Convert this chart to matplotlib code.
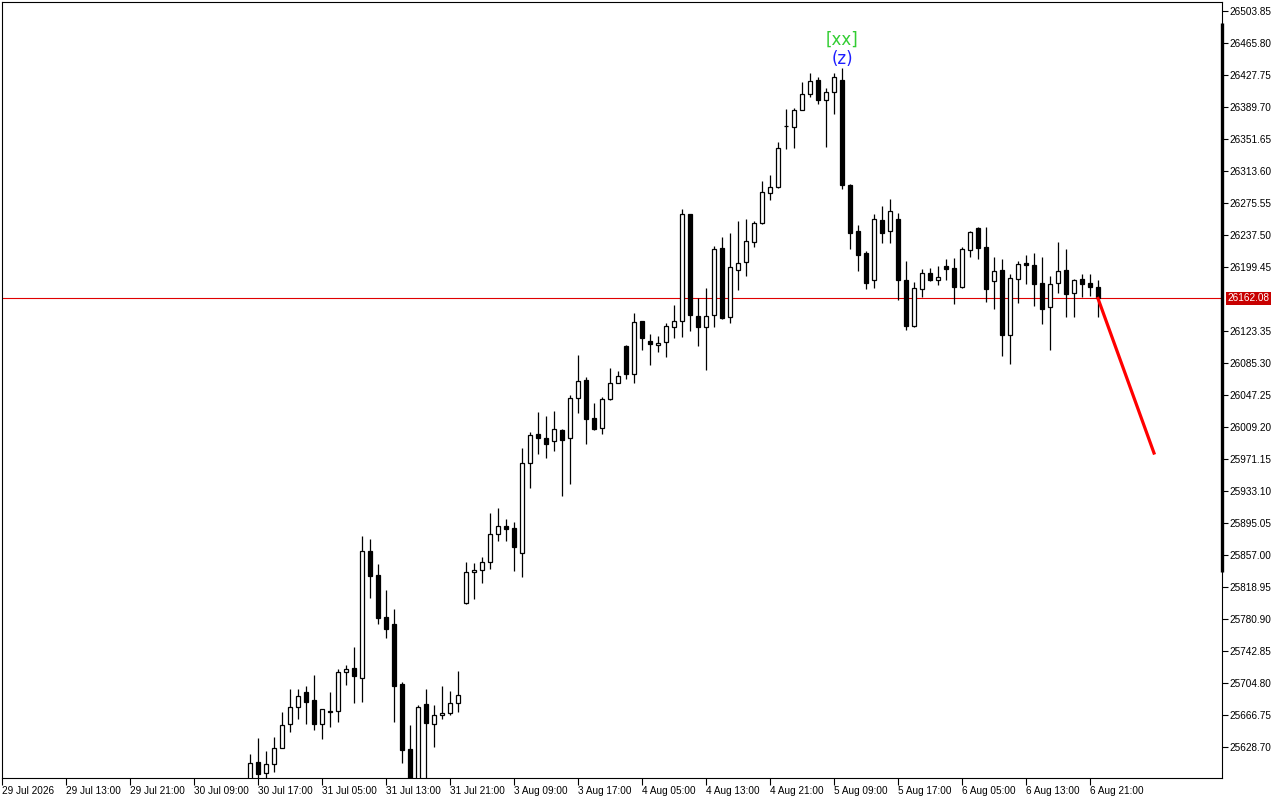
import numpy as np
import matplotlib
matplotlib.use('Agg')
import matplotlib.pyplot as plt

# Candle data (H1 bars), first visible bar sits at index 31 of the chart
first_bar = 31
opens = [25580.0, 25610.8, 25597.7, 25608.4, 25627.5, 25656.0, 25676.3, 25694.1, 25684.6, 25656.0,
         25671.5, 25671.5, 25718.0, 25722.7, 25710.7, 25861.7, 25833.2, 25783.3, 25775.0, 25703.6,
         25626.3, 25565.0, 25679.8, 25656.0, 25666.7, 25669.1, 25681.0, 25800.0, 25836.8, 25839.2,
         25848.7, 25881.9, 25891.5, 25889.1, 25859.4, 25966.4, 26000.9, 25996.2, 25992.6, 26005.6,
         25996.2, 26043.7, 26065.1, 26019.9, 26008.0, 26042.5, 26061.6, 26105.6, 26072.3, 26135.2,
         26111.5, 26106.8, 26110.3, 26128.2, 26135.2, 26262.5, 26141.2, 26128.2, 26142.4, 26222.1,
         26140.0, 26195.9, 26205.4, 26229.2, 26252.0, 26287.4, 26294.6, 26367.1, 26365.9, 26386.2,
         26405.2, 26421.8, 26398.0, 26407.5, 26421.8, 26297.0, 26242.3, 26216.1, 26184.0, 26255.3,
         26242.3, 26256.5, 26184.0, 26129.3, 26173.3, 26192.3, 26184.0, 26200.6, 26198.3, 26175.7,
         26219.7, 26245.8, 26223.3, 26182.8, 26195.9, 26118.6, 26185.2, 26204.3, 26201.9, 26180.4,
         26151.9, 26180.4, 26195.9, 26168.6, 26185.2, 26180.4, 26175.7]
highs = [25620.0, 25639.4, 25624.0, 25640.6, 25670.3, 25697.6, 25697.6, 25701.2, 25714.3, 25674.5,
         25694.1, 25721.5, 25726.3, 25747.6, 25879.6, 25876.0, 25846.3, 25815.4, 25792.8, 25706.0,
         25654.8, 25678.7, 25697.6, 25678.7, 25701.2, 25695.3, 25719.0, 25848.7, 25847.5, 25854.6,
         25906.9, 25912.9, 25899.8, 25896.2, 25984.3, 26003.3, 26027.0, 26022.3, 26028.2, 26006.5,
         26047.3, 26094.8, 26068.6, 26037.7, 26044.9, 26079.3, 26075.8, 26106.8, 26144.7, 26135.5,
         26119.8, 26117.5, 26132.9, 26154.2, 26268.4, 26263.0, 26162.5, 26174.4, 26224.4, 26235.1,
         26239.9, 26254.2, 26256.5, 26254.4, 26301.7, 26308.8, 26348.1, 26387.3, 26388.5, 26419.4,
         26430.1, 26425.4, 26412.3, 26430.1, 26436.1, 26298.0, 26249.4, 26218.5, 26262.5, 26272.0,
         26280.3, 26263.7, 26206.6, 26181.6, 26197.1, 26198.3, 26200.6, 26208.9, 26210.1, 26223.3,
         26242.3, 26246.5, 26247.0, 26211.3, 26208.9, 26191.2, 26206.6, 26213.7, 26216.1, 26211.3,
         26188.8, 26229.2, 26220.9, 26185.2, 26191.2, 26191.2, 26184.0]
lows = [25570.0, 25584.0, 25590.6, 25599.0, 25627.0, 25646.5, 25662.0, 25656.0, 25648.9, 25638.2,
        25652.4, 25658.0, 25702.4, 25681.0, 25682.2, 25805.8, 25775.0, 25758.3, 25658.4, 25609.6,
        25555.0, 25555.0, 25575.0, 25628.7, 25662.0, 25667.0, 25670.3, 25799.0, 25804.6, 25823.7,
        25840.3, 25873.6, 25873.6, 25837.9, 25830.8, 25936.7, 25977.0, 25972.3, 25980.6, 25927.2,
        25941.4, 26025.8, 25989.0, 26006.0, 26000.9, 26041.3, 26061.0, 26066.3, 26061.6, 26100.8,
        26082.9, 26098.4, 26092.5, 26115.0, 26116.2, 26123.3, 26105.6, 26077.0, 26128.2, 26137.6,
        26132.9, 26172.1, 26188.8, 26223.2, 26251.0, 26279.1, 26294.0, 26339.8, 26340.9, 26386.0,
        26401.6, 26393.3, 26342.1, 26381.4, 26292.2, 26220.9, 26194.7, 26173.3, 26174.5, 26228.0,
        26228.0, 26160.2, 26124.6, 26128.0, 26163.8, 26182.8, 26178.1, 26184.0, 26155.5, 26175.0,
        26211.3, 26208.9, 26157.8, 26149.5, 26093.6, 26084.0, 26156.7, 26179.2, 26153.1, 26131.7,
        26101.4, 26169.0, 26140.0, 26140.0, 26163.8, 26165.0, 26140.0]
closes = [25610.0, 25596.5, 25608.4, 25627.5, 25654.8, 25676.3, 25689.3, 25682.2, 25656.0, 25673.9,
          25670.3, 25718.0, 25721.5, 25713.1, 25861.7, 25832.0, 25782.1, 25769.0, 25701.2, 25625.1,
          25570.0, 25676.3, 25657.2, 25666.7, 25669.1, 25681.0, 25690.5, 25836.8, 25839.2, 25848.7,
          25881.9, 25891.5, 25887.9, 25866.5, 25966.4, 25999.7, 25996.2, 25989.0, 26006.8, 25993.7,
          26043.7, 26064.0, 26018.7, 26006.8, 26042.5, 26061.6, 26069.7, 26072.3, 26134.1, 26115.0,
          26107.9, 26109.2, 26129.4, 26135.2, 26262.5, 26142.4, 26128.2, 26141.2, 26220.9, 26138.8,
          26199.5, 26204.3, 26230.4, 26252.0, 26288.6, 26294.6, 26340.9, 26367.6, 26386.2, 26405.2,
          26420.6, 26398.0, 26407.6, 26425.4, 26297.0, 26239.9, 26213.7, 26180.4, 26256.5, 26239.9,
          26266.1, 26184.0, 26129.3, 26174.5, 26192.3, 26184.0, 26187.6, 26197.1, 26175.7, 26220.9,
          26241.1, 26222.1, 26173.3, 26194.7, 26118.6, 26186.4, 26203.0, 26201.9, 26179.2, 26149.5,
          26179.2, 26194.7, 26167.4, 26184.0, 26179.2, 26175.7, 26162.08]

time_labels = ['29 Jul 2026', '29 Jul 13:00', '29 Jul 21:00', '30 Jul 09:00', '30 Jul 17:00',
               '31 Jul 05:00', '31 Jul 13:00', '31 Jul 21:00', '3 Aug 09:00', '3 Aug 17:00',
               '4 Aug 05:00', '4 Aug 13:00', '4 Aug 21:00', '5 Aug 09:00', '5 Aug 17:00',
               '6 Aug 05:00', '6 Aug 13:00', '6 Aug 21:00']
label_step = 8

price_ticks = [26503.85, 26465.80, 26427.75, 26389.70, 26351.65, 26313.60, 26275.55, 26237.50,
               26199.45, 26123.35, 26085.30, 26047.25, 26009.20, 25971.15, 25933.10, 25895.05,
               25857.00, 25818.95, 25780.90, 25742.85, 25704.80, 25666.75, 25628.70]

last_price = 26162.08
proj_bars = [137, 144]
proj_prices = [26162.08, 25978.3]

wave_bar = 105
wave_top = '[xx]'
wave_mid = '(z)'


def plot_candles(**kargs):
    cfg = kargs['fig_config']
    o = np.array(kargs['opens'])
    h = np.array(kargs['highs'])
    l = np.array(kargs['lows'])
    c = np.array(kargs['closes'])
    x = np.arange(len(o)) + kargs['first_bar']

    fig = plt.figure(figsize=(cfg['fig_width'], cfg['fig_height']), dpi=cfg['dpi_size'])
    ax = fig.add_axes([2 / 1280, 22 / 800, 1220 / 1280, 776 / 800])
    ax.set_xlim(0, 152.5)
    ax.set_ylim(25591.9, 26514.6)

    # wicks then bodies
    ax.vlines(x, l, h, color='black', linewidth=0.9, zorder=2)
    up = c >= o
    body = np.maximum(np.abs(c - o), 0.6)
    ax.bar(x[up], body[up], bottom=o[up], width=0.6, facecolor='white',
           edgecolor='black', linewidth=0.9, zorder=3)
    ax.bar(x[~up], body[~up], bottom=c[~up], width=0.6, facecolor='black',
           edgecolor='black', linewidth=0.9, zorder=3)

    # current price line + projection
    ax.axhline(kargs['last_price'], color='#E00000', linewidth=0.8, zorder=1)
    ax.plot(kargs['proj_bars'], kargs['proj_prices'], color='#FF0000',
            linewidth=2.3, zorder=4)

    # wave labels above the top
    top = h[kargs['wave_bar'] - kargs['first_bar']]
    ax.annotate(kargs['wave_mid'], xy=(kargs['wave_bar'], top), xytext=(0, 0),
                textcoords='offset pixels', ha='center', va='bottom',
                fontsize=12, color='#1E1EFF')
    ax.annotate(kargs['wave_top'], xy=(kargs['wave_bar'], top), xytext=(0, 19),
                textcoords='offset pixels', ha='center', va='bottom',
                fontsize=12, color='#32CD32')

    # axes
    ax.yaxis.tick_right()
    ax.set_yticks(kargs['price_ticks'])
    ax.set_yticklabels([f'{p:.2f}' for p in kargs['price_ticks']],
                       fontsize=cfg['label_size'], family='Liberation Sans')
    ax.set_xticks(np.arange(len(kargs['time_labels'])) * kargs['label_step'])
    ax.set_xticklabels(kargs['time_labels'], ha='left',
                       fontsize=cfg['label_size'], family='Liberation Sans')
    ax.tick_params(axis='y', direction='out', length=4, width=0.8, pad=1)
    ax.tick_params(axis='x', direction='out', length=5, width=0.8, pad=1)
    for s in ax.spines.values():
        s.set_linewidth(0.8)

    # thick marker on right border
    ax.plot([1, 1], [0.2655, 0.973], transform=ax.transAxes, color='black',
            linewidth=2.4, clip_on=False, solid_capstyle='butt', zorder=5)

    # price tag
    ax.annotate(f"{kargs['last_price']:.2f}", xy=(1, kargs['last_price']),
                xycoords=('axes fraction', 'data'), xytext=(5, 0),
                textcoords='offset pixels', ha='left', va='center',
                fontsize=cfg['label_size'], family='Liberation Sans', color='white',
                bbox=dict(boxstyle='square,pad=0.15', fc='#C80000', ec='none'))

    fig.savefig(kargs['output_path'], dpi=cfg['dpi_size'])


if __name__ == "__main__":

    fig_config = {}
    fig_config['fig_width'] = 12.8
    fig_config['fig_height'] = 8
    fig_config['dpi_size'] = 100
    fig_config['label_size'] = 7.2

    plot_candles(opens=opens, highs=highs, lows=lows, closes=closes,
                 first_bar=first_bar, time_labels=time_labels,
                 label_step=label_step, price_ticks=price_ticks,
                 last_price=last_price, proj_bars=proj_bars,
                 proj_prices=proj_prices, wave_bar=wave_bar,
                 wave_top=wave_top, wave_mid=wave_mid,
                 fig_config=fig_config, output_path='out.png')
